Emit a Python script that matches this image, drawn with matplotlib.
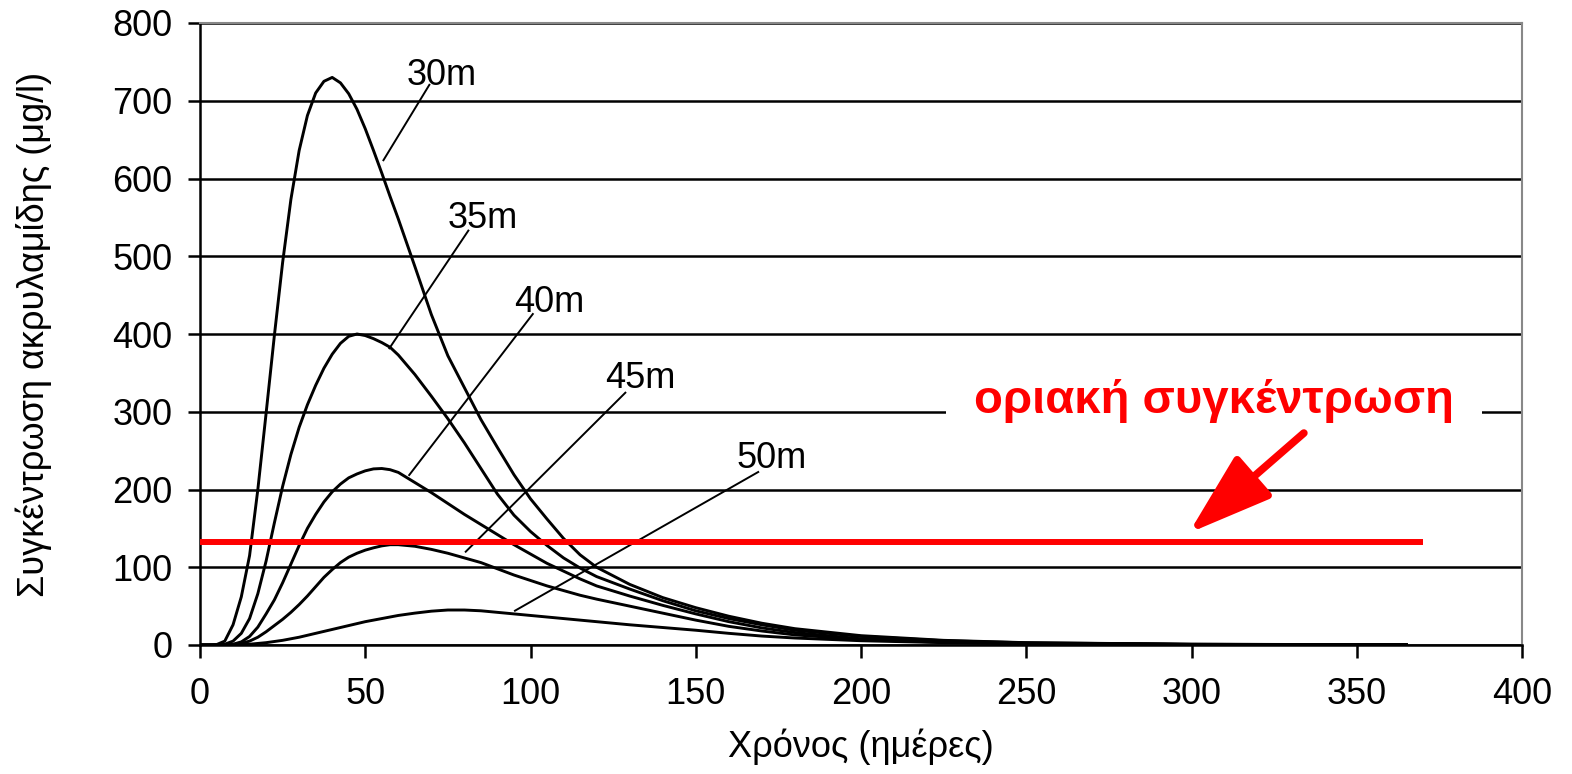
import numpy as np
import matplotlib.pyplot as plt
from matplotlib.patches import FancyArrowPatch

plt.rcParams['font.family'] = ['Liberation Sans', 'DejaVu Sans']

# χρόνος (ημέρες)
t = [0, 2.5, 5, 7.5, 10, 12.5, 15, 17.5, 20, 22.5, 25, 27.5, 30, 32.5, 35, 37.5,
     40, 42.5, 45, 47.5, 50, 52.5, 55, 57.5, 60,
     65, 70, 75, 80, 85, 90, 95, 100, 105, 110, 115, 120,
     130, 140, 150, 160, 170, 180,
     200, 225, 250, 300, 365]

# συγκέντρωση (μg/l) για κάθε απόσταση
c30 = [0, 0, 0.5, 5, 26, 62, 115, 200, 298, 398, 492, 573, 636, 681, 710, 725,
       730, 723, 709, 689, 664, 636, 607, 577, 548,
       487, 425, 372, 331, 290, 254, 219, 188, 162, 137, 116, 100,
       78, 61, 48, 37, 28, 21,
       12, 6, 3, 1, 0.3]
c35 = [0, 0, 0, 1, 5, 15, 34, 66, 108, 157, 204, 245, 280, 309, 334, 356,
       374, 388, 397, 400, 398, 394, 389, 383, 373,
       348, 320, 291, 260, 227, 194, 167, 146, 128, 112, 99, 88,
       72, 57, 44, 34, 26, 19,
       11, 5.5, 2.8, 0.9, 0.3]
c40 = [0, 0, 0, 0, 1, 4, 11, 23, 40, 58, 80, 104, 128, 150, 168, 184,
       197, 207, 215, 220, 224, 226.5, 227, 225.5, 222,
       209, 196, 182, 168, 155, 142, 129, 117, 105, 95, 85, 76,
       63, 51, 40, 30, 22, 16,
       8, 4, 2.2, 0.8, 0.3]
c45 = [0, 0, 0, 0, 0.5, 2, 5, 10, 17, 25, 33, 42, 52, 63, 75, 87,
       97, 106, 113, 118, 122, 125, 127.5, 129, 129,
       127, 123, 118, 112, 106, 98, 90, 83, 76, 70, 64, 59,
       50, 41, 32, 24, 18, 13,
       7, 3.5, 1.8, 0.6, 0.2]
c50 = [0, 0, 0, 0, 0, 0.5, 1, 2, 3, 4.5, 6, 8, 10, 12.5, 15, 17.5,
       20, 22.5, 25, 27.5, 30, 32, 34, 36, 38,
       41, 43.5, 45, 45, 44, 42, 40, 38, 36, 34, 32, 30,
       26, 22.5, 19, 15, 11.5, 9,
       5.5, 3, 1.8, 0.6, 0.2]

onoma = ['30m', '35m', '40m', '45m', '50m']
orio = 133          # οριακή συγκέντρωση
orio_t = [0, 370]

fig = plt.figure(figsize=(15.72, 7.74), dpi=100)
ax = fig.add_axes([200/1572, 1-645/774, 1322/1572, 622/774])

for c in [c30, c35, c40, c45, c50]:
    ax.plot(t, c, color='black', lw=2.1, zorder=3, solid_joinstyle='round')

ax.plot(orio_t, [orio, orio], color='red', lw=4.3, solid_capstyle='butt', zorder=5)

# ετικέτες καμπυλών με γραμμές
etiketes = [(73.2, 720.3, (69.4, 720.5), (55.5, 623.5)),
            (85.6, 536.3, (81.2, 533), (57.3, 381.6)),
            (105.6, 428.7, (100.7, 425.7), (63.3, 218.6)),
            (133.1, 330.2, (128.7, 324.5), (80.4, 120)),
            (173.0, 227.3, (168.9, 222.5), (95.3, 44.1))]
for lab, (tx, ty, p1, p2) in zip(onoma, etiketes):
    ax.text(tx, ty, lab, fontsize=26, ha='center', va='baseline', zorder=6)
    ax.plot([p1[0], p2[0]], [p1[1], p2[1]], color='black', lw=1.4, zorder=4)

ax.text(306.8, 298.4, 'οριακή συγκέντρωση', color='red', fontsize=34,
        fontweight='bold', ha='center', va='baseline', zorder=6,
        bbox=dict(boxstyle='square,pad=0.6', fc='white', ec='none'))

arr = FancyArrowPatch((334, 272.6), (299.2, 144),
                      arrowstyle='-|>,head_length=52,head_width=17',
                      mutation_scale=1, color='red', lw=5.5,
                      shrinkA=0, shrinkB=0, zorder=7)
ax.add_patch(arr)

ax.set_xlim(0, 400)
ax.set_ylim(0, 800)
ax.set_xticks(np.arange(0, 401, 50))
ax.set_yticks(np.arange(0, 801, 100))
ax.yaxis.grid(True, color='black', lw=1.8)
ax.set_axisbelow(True)
ax.tick_params(direction='out', length=9, width=1.8, labelsize=26)
ax.tick_params(axis='y', pad=11)
ax.tick_params(axis='x', pad=14)
for s in ['left', 'bottom']:
    ax.spines[s].set_linewidth(1.8)
for s in ['top', 'right']:
    ax.spines[s].set_color('#888888')
    ax.spines[s].set_linewidth(1.5)

ax.set_xlabel('Χρόνος (ημέρες)', fontsize=26)
ax.set_ylabel('Συγκέντρωση ακρυλαμίδης (μg/l)', fontsize=26)
ax.xaxis.set_label_coords(0.5, -0.135)
ax.yaxis.set_label_coords(-0.112, 0.5)

fig.savefig('out.png', dpi=100)
